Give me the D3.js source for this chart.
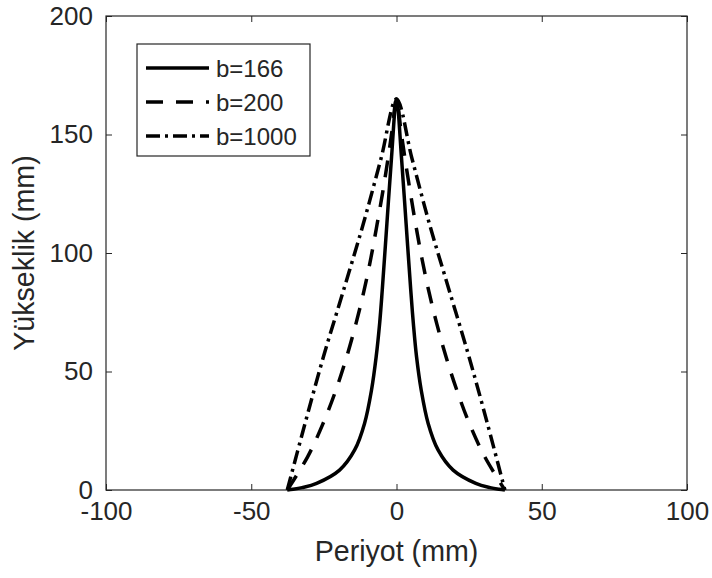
<!DOCTYPE html>
<html>
<head>
<meta charset="utf-8">
<script src="https://cdn.jsdelivr.net/npm/d3@7"></script>
<style>
  body { margin: 0; background: #fff; }
  svg { display: block; font-family: Arial, "Liberation Sans", sans-serif; }
</style>
</head>
<body>
<svg id="chart"></svg>
<script>
// Heights (mm) at which the profiles were read
const heights166 = [0, 0.3, 1, 2.8, 8.4, 16.9, 28.1, 42.2, 56.2, 70.3, 84.4, 112.5, 140.6, 165];
const left166 = [-37.6, -35.6, -32.5, -27.5, -19.6, -14.4, -11.0, -8.6, -7.0, -5.8, -4.9, -3.3, -1.7, 0];
const right166 = [37.3, 35.3, 32.2, 27.3, 19.5, 14.3, 10.9, 8.5, 6.9, 5.8, 4.9, 3.3, 1.7, 0];

const heights200 = [0, 14, 28, 42, 56, 70, 84, 98, 112, 126, 140, 152, 165];
const left200 = [-37.6, -30.6, -25.3, -20.9, -17.2, -14.0, -11.2, -8.8, -6.7, -4.7, -2.9, -1.5, 0];
const right200 = [37.3, 30.4, 25.1, 20.8, 17.1, 13.9, 11.1, 8.7, 6.6, 4.7, 2.9, 1.5, 0];

const heights1000 = [0, 28, 56, 84, 112, 140, 165];
const left1000 = [-37.6, -31.5, -25.2, -18.3, -11.5, -5.3, 0];
const right1000 = [37.3, 31.3, 25.0, 18.2, 11.4, 5.3, 0];

const seriesNames = ['b=166', 'b=200', 'b=1000'];
const xTicks = [-100, -50, 0, 50, 100];
const yTicks = [0, 50, 100, 150, 200];

// left branch goes up to the peak, right branch comes back down
function profile(hs, left, right) {
  const up = hs.map((h, i) => ({ x: left[i], y: h }));
  const down = hs.slice(0, -1).map((h, i) => ({ x: right[i], y: h })).reverse();
  return up.concat(down);
}

const series = [
  { name: seriesNames[0], pts: profile(heights166, left166, right166), dash: null },
  { name: seriesNames[1], pts: profile(heights200, left200, right200), dash: '17,13' },
  { name: seriesNames[2], pts: profile(heights1000, left1000, right1000), dash: '14,5,3,5' }
];

const W = 712, H = 578;
const margin = { top: 16, right: 25, bottom: 88, left: 106 };
const width = W - margin.left - margin.right;
const height = H - margin.top - margin.bottom;
const axisColor = '#262626';

const svg = d3.select('#chart').attr('width', W).attr('height', H);
const g = svg.append('g').attr('transform', `translate(${margin.left},${margin.top})`);

const x = d3.scaleLinear().domain([-100, 100]).range([0, width]);
const y = d3.scaleLinear().domain([0, 200]).range([height, 0]);

// plain hyphen minus, like the original
const fmt = d => String(d);

// Axes, ticks pointing inward
const styleAxis = sel => {
  sel.select('.domain').remove();
  sel.selectAll('line').attr('stroke', axisColor);
  sel.selectAll('text').attr('fill', axisColor).style('font-size', '26px');
};

g.append('g')
  .attr('transform', `translate(0,${height})`)
  .call(d3.axisBottom(x).tickValues(xTicks).tickFormat(fmt).tickSizeInner(-6).tickSizeOuter(0).tickPadding(12))
  .call(styleAxis);

g.append('g')
  .call(d3.axisTop(x).tickValues(xTicks).tickSizeInner(-6).tickSizeOuter(0).tickFormat(''))
  .call(styleAxis);

g.append('g')
  .call(d3.axisLeft(y).tickValues(yTicks).tickFormat(fmt).tickSizeInner(-6).tickSizeOuter(0).tickPadding(13))
  .call(styleAxis);

g.append('g')
  .attr('transform', `translate(${width},0)`)
  .call(d3.axisRight(y).tickValues(yTicks).tickSizeInner(-6).tickSizeOuter(0).tickFormat(''))
  .call(styleAxis);

// Box
g.append('rect')
  .attr('x', 0).attr('y', 0)
  .attr('width', width).attr('height', height)
  .attr('fill', 'none')
  .attr('stroke', axisColor)
  .attr('stroke-width', 1.2);

// Lines
const line = d3.line()
  .x(d => x(d.x))
  .y(d => y(d.y))
  .curve(d3.curveCatmullRom.alpha(0.5));

series.forEach(s => {
  g.append('path')
    .datum(s.pts)
    .attr('fill', 'none')
    .attr('stroke', '#000')
    .attr('stroke-width', 3.5)
    .attr('stroke-dasharray', s.dash)
    .attr('d', line);
});

// Axis labels
svg.append('text')
  .attr('x', margin.left + width / 2)
  .attr('y', 561)
  .attr('text-anchor', 'middle')
  .attr('fill', axisColor)
  .style('font-size', '28.6px')
  .text('Periyot (mm)');

svg.append('text')
  .attr('transform', `translate(34,${margin.top + height / 2}) rotate(-90)`)
  .attr('text-anchor', 'middle')
  .attr('fill', axisColor)
  .style('font-size', '28.6px')
  .text('Yükseklik (mm)');

// Legend
const legend = svg.append('g').attr('transform', 'translate(137,44)');
legend.append('rect')
  .attr('width', 173).attr('height', 112)
  .attr('fill', '#fff')
  .attr('stroke', axisColor)
  .attr('stroke-width', 1.2);

series.forEach((s, i) => {
  const ly = 24 + i * 34;
  legend.append('line')
    .attr('x1', 9).attr('x2', 72)
    .attr('y1', ly).attr('y2', ly)
    .attr('stroke', '#000')
    .attr('stroke-width', 3.5)
    .attr('stroke-dasharray', s.dash);
  legend.append('text')
    .attr('x', 79).attr('y', ly)
    .attr('dy', '0.36em')
    .attr('fill', axisColor)
    .style('font-size', '24px')
    .text(s.name);
});
</script>
</body>
</html>
